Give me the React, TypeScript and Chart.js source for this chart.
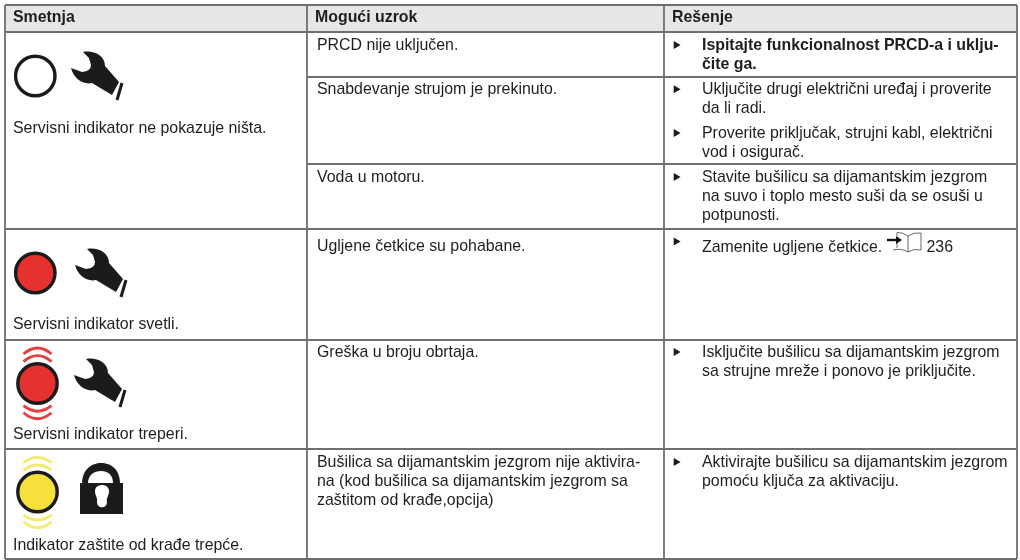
import React, { useEffect, useRef } from "react";
import { Chart, registerables } from "chart.js";

Chart.register(...registerables);

const columnHeaders = ["Smetnja", "Mogući uzrok", "Rešenje"];
const symptoms = [
  "Servisni indikator ne pokazuje ništa.",
  "Servisni indikator svetli.",
  "Servisni indikator treperi.",
  "Indikator zaštite od krađe trepće.",
];
const causes = [
  ["PRCD nije uključen."],
  ["Snabdevanje strujom je prekinuto."],
  ["Voda u motoru."],
  ["Ugljene četkice su pohabane."],
  ["Greška u broju obrtaja."],
  ["Bušilica sa dijamantskim jezgrom nije aktivira-", "na (kod bušilica sa dijamantskim jezgrom sa", "zaštitom od krađe,opcija)"],
];
const remedies = [
  ["Ispitajte funkcionalnost PRCD-a i uklju-", "čite ga."],
  ["Uključite drugi električni uređaj i proverite", "da li radi."],
  ["Proverite priključak, strujni kabl, električni", "vod i osigurač."],
  ["Stavite bušilicu sa dijamantskim jezgrom", "na suvo i toplo mesto suši da se osuši u", "potpunosti."],
  ["Zamenite ugljene četkice."],
  ["Isključite bušilicu sa dijamantskim jezgrom", "sa strujne mreže i ponovo je priključite."],
  ["Aktivirajte bušilicu sa dijamantskim jezgrom", "pomoću ključa za aktivaciju."],
];
const pageReference = "236";

const columnEdges = [5, 307, 664, 1017];
const rowEdges = [5, 32, 77, 164, 229, 340, 449, 559];
const firstColumnRows = [5, 32, 229, 340, 449, 559];
const headerBaseline = 22;
const symptomBaselines = [133, 329, 439, 550];
const causeBaselines = [50, 94, 182, 251, 357, 467];
const remedyBaselines = [50, 94, 138, 182, 252, 357, 467];
const bulletCenters = [45, 89.3, 133, 177, 241.5, 352, 462];
const lineStep = 19;

const lampX = [35.3, 35.3, 37.5, 37.5];
const lampY = [76, 273, 383.5, 492];
const lampFill = ["#ffffff", "#e6322e", "#e6322e", "#f6e03c"];
const wrenchX = [71, 75, 74];
const wrenchY = [52, 249, 359];
const lockX = 80;
const lockY = 463;

const TEXT = "#1e1e1e";
const RULE = "#6f6f6f";
const FONT = '"Liberation Sans", Arial, sans-serif';
const SIZE = 15.9;
const LAMP_RADIUS = 19.7;
const LAMP_BORDER = 3.4;
const OVERFLOW = LAMP_RADIUS + LAMP_BORDER;

function wave(ctx: CanvasRenderingContext2D, x: number, y: number, rise: number, color: string) {
  ctx.strokeStyle = color;
  ctx.lineWidth = 2.8;
  ctx.beginPath();
  ctx.moveTo(x - 14, y);
  ctx.quadraticCurveTo(x, y - rise * 2, x + 14, y);
  ctx.stroke();
}

function wrench(ctx: CanvasRenderingContext2D, x: number, y: number) {
  ctx.save();
  ctx.translate(x, y);
  ctx.fillStyle = "#1b1b1b";
  ctx.beginPath();
  ctx.moveTo(12, 0);
  ctx.bezierCurveTo(22, -2, 34, 3, 34, 14);
  ctx.lineTo(48, 30);
  ctx.lineTo(41, 43);
  ctx.lineTo(21, 31);
  ctx.bezierCurveTo(12, 33, 3, 27, 0, 16);
  ctx.lineTo(11, 20);
  ctx.quadraticCurveTo(20, 19, 20, 13);
  ctx.lineTo(18, 6);
  ctx.closePath();
  ctx.fill();
  ctx.strokeStyle = "#1b1b1b";
  ctx.lineWidth = 3;
  ctx.beginPath();
  ctx.moveTo(51, 31);
  ctx.lineTo(46, 48);
  ctx.stroke();
  ctx.restore();
}

function lock(ctx: CanvasRenderingContext2D, x: number, y: number) {
  ctx.save();
  ctx.translate(x, y);
  ctx.fillStyle = "#1b1b1b";
  ctx.fillRect(0, 20, 43, 31);
  ctx.beginPath();
  ctx.moveTo(2, 21);
  ctx.bezierCurveTo(2, 6, 12, 0, 21, 0);
  ctx.bezierCurveTo(31, 0, 40, 6, 40, 21);
  ctx.closePath();
  ctx.fill();
  ctx.fillStyle = "#ffffff";
  ctx.beginPath();
  ctx.moveTo(8, 20);
  ctx.bezierCurveTo(8, 12, 14, 8, 21, 8);
  ctx.bezierCurveTo(28, 8, 33, 12, 33, 20);
  ctx.closePath();
  ctx.fill();
  ctx.beginPath();
  ctx.moveTo(15, 28);
  ctx.bezierCurveTo(15, 20, 29, 20, 29, 28);
  ctx.bezierCurveTo(29, 33, 26, 35, 27, 39);
  ctx.bezierCurveTo(27, 46, 17, 46, 17, 39);
  ctx.bezierCurveTo(18, 35, 15, 33, 15, 28);
  ctx.closePath();
  ctx.fill();
  ctx.restore();
}

function book(ctx: CanvasRenderingContext2D, x: number, y: number) {
  ctx.save();
  ctx.translate(x, y);
  ctx.strokeStyle = "#444444";
  ctx.lineWidth = 0.8;
  ctx.beginPath();
  ctx.moveTo(10, 4);
  ctx.lineTo(10, 0.5);
  ctx.quadraticCurveTo(16, 0, 21, 4);
  ctx.quadraticCurveTo(27, 0, 34, 1);
  ctx.lineTo(34, 18);
  ctx.quadraticCurveTo(27, 16, 21, 20);
  ctx.quadraticCurveTo(15, 16, 6, 18);
  ctx.moveTo(21, 4);
  ctx.lineTo(21, 20);
  ctx.moveTo(10, 11);
  ctx.lineTo(10, 16);
  ctx.stroke();
  ctx.strokeStyle = "#111111";
  ctx.lineWidth = 2.4;
  ctx.beginPath();
  ctx.moveTo(0, 8);
  ctx.lineTo(10, 8);
  ctx.stroke();
  ctx.fillStyle = "#111111";
  ctx.beginPath();
  ctx.moveTo(9, 4);
  ctx.lineTo(15, 8);
  ctx.lineTo(9, 12);
  ctx.closePath();
  ctx.fill();
  ctx.restore();
}

const tablePlugin = {
  id: "tablePlugin",
  beforeDatasetsDraw(chart: any) {
    const { ctx, scales } = chart;
    const X = (v: number) => scales.x.getPixelForValue(v);
    const Y = (v: number) => scales.y.getPixelForValue(v);
    ctx.save();
    ctx.fillStyle = "#e6e6e6";
    ctx.fillRect(X(columnEdges[0]), Y(rowEdges[0]), X(columnEdges[3]) - X(columnEdges[0]), Y(rowEdges[1]) - Y(rowEdges[0]));
    ctx.restore();
  },
  afterDatasetsDraw(chart: any) {
    const { ctx, scales } = chart;
    const X = (v: number) => scales.x.getPixelForValue(v);
    const Y = (v: number) => scales.y.getPixelForValue(v);
    ctx.save();
    ctx.textBaseline = "alphabetic";
    ctx.textAlign = "left";
    ctx.fillStyle = TEXT;
    ctx.font = `bold ${SIZE}px ${FONT}`;
    columnHeaders.forEach((h, i) => ctx.fillText(h, X(columnEdges[i] + 8), Y(headerBaseline)));
    ctx.font = `${SIZE}px ${FONT}`;
    symptoms.forEach((s, i) => ctx.fillText(s, X(13), Y(symptomBaselines[i])));
    causes.forEach((lines, i) =>
      lines.forEach((l, j) => ctx.fillText(l, X(317), Y(causeBaselines[i] + j * lineStep)))
    );
    remedies.forEach((lines, i) => {
      ctx.font = `${i === 0 ? "bold " : ""}${SIZE}px ${FONT}`;
      lines.forEach((l, j) => ctx.fillText(l, X(702), Y(remedyBaselines[i] + j * lineStep)));
    });
    ctx.font = `${SIZE}px ${FONT}`;
    ctx.fillText(pageReference, X(926.5), Y(remedyBaselines[4]));
    book(ctx, X(887), Y(232));

    wrenchX.forEach((x, i) => wrench(ctx, X(x), Y(wrenchY[i])));
    lock(ctx, X(lockX), Y(lockY));

    const red = "#e4403f";
    const yellow = "#f5ea70";
    wave(ctx, X(37.5), Y(354), 6, red);
    wave(ctx, X(37.5), Y(361.6), 6, red);
    wave(ctx, X(37.5), Y(405.7), -5.5, red);
    wave(ctx, X(37.5), Y(412.7), -6, red);
    wave(ctx, X(37.5), Y(462.7), 5.3, yellow);
    wave(ctx, X(37.5), Y(470), 5, yellow);
    wave(ctx, X(37.5), Y(515), -5, yellow);
    wave(ctx, X(37.5), Y(521.7), -6, yellow);
    ctx.restore();
  },
};

const ruleDataset = (data: { x: number; y: number }[]) => ({
  type: "line" as const,
  data,
  borderColor: RULE,
  borderWidth: 1.8,
  pointRadius: 0,
  fill: false,
  tension: 0,
  clip: false,
  order: 2,
});

export default function App() {
  const ref = useRef<HTMLCanvasElement | null>(null);
  useEffect(() => {
    if (!ref.current) return;
    const horizontals = rowEdges.map((y) => {
      const start = firstColumnRows.includes(y) ? columnEdges[0] : columnEdges[1];
      return ruleDataset([{ x: start, y }, { x: columnEdges[3], y }]);
    });
    const verticals = columnEdges.map((x) =>
      ruleDataset([{ x, y: rowEdges[0] }, { x, y: rowEdges[rowEdges.length - 1] }])
    );
    const chart = new Chart(ref.current, {
      type: "scatter",
      data: {
        datasets: [
          ...horizontals,
          ...verticals,
          {
            type: "scatter",
            data: lampX.map((x, i) => ({ x, y: lampY[i] })),
            backgroundColor: lampFill,
            borderColor: "#1b1b1b",
            borderWidth: LAMP_BORDER,
            pointRadius: LAMP_RADIUS,
            clip: false,
            order: 1,
          },
          {
            type: "scatter",
            data: bulletCenters.map((y) => ({ x: 676, y })),
            backgroundColor: "#1b1b1b",
            borderColor: "#1b1b1b",
            borderWidth: 0,
            pointStyle: "triangle",
            rotation: 90,
            pointRadius: 4.6,
            clip: false,
            order: 1,
          },
        ] as any,
      },
      options: {
        responsive: false,
        animation: false,
        layout: { padding: 0 },
        events: [],
        plugins: { legend: { display: false }, tooltip: { enabled: false }, title: { display: false } },
        scales: {
          x: { type: "linear", min: OVERFLOW, max: 1020 - OVERFLOW, display: false },
          y: { type: "linear", min: OVERFLOW, max: 560 - OVERFLOW, reverse: true, display: false },
        },
      },
      plugins: [tablePlugin],
    });
    return () => chart.destroy();
  }, []);
  return (
    <canvas
      ref={ref}
      width={1020}
      height={560}
      style={{ position: "absolute", left: 0, top: 0, display: "block", background: "#ffffff" }}
    />
  );
}
